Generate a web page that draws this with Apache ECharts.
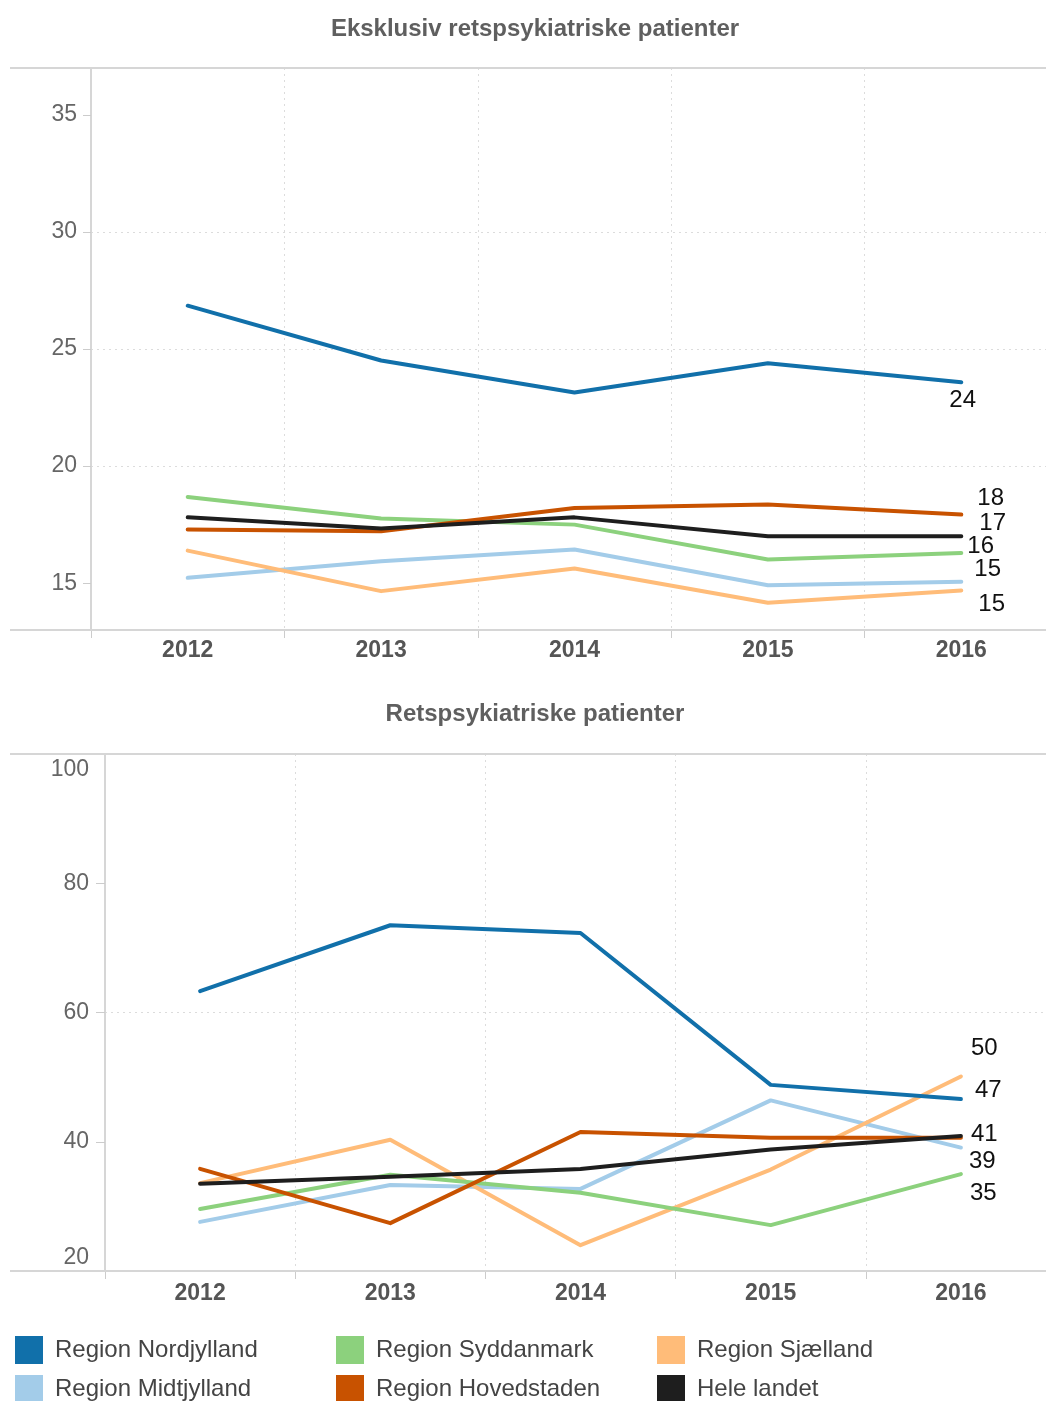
<!DOCTYPE html>
<html>
<head>
<meta charset="utf-8">
<script src="https://cdn.jsdelivr.net/npm/echarts@6/dist/echarts.min.js"></script>
<style>
  html, body { margin: 0; padding: 0; background: #ffffff; }
  #chart { width: 1046px; height: 1401px; }
</style>
</head>
<body>
<div id="chart"></div>
<script>
// Years on the category axis
const years = ['2012', '2013', '2014', '2015', '2016'];

// Series names, in legend order (column by column)
const regionNames = ['Region Nordjylland', 'Region Midtjylland', 'Region Syddanmark',
                     'Region Hovedstaden', 'Region Sjælland', 'Hele landet'];

// Eksklusiv retspsykiatriske patienter
const nordjyllandExcl = [26.85, 24.51, 23.14, 24.39, 23.58];
const midtjyllandExcl = [15.23, 15.94, 16.44, 14.91, 15.06];
const syddanmarkExcl  = [18.68, 17.76, 17.50, 16.01, 16.29];
const hovedstadenExcl = [17.29, 17.22, 18.21, 18.36, 17.93];
const sjaellandExcl   = [16.39, 14.66, 15.63, 14.16, 14.69];
const heleLandetExcl  = [17.81, 17.33, 17.81, 17.00, 17.00];

// Retspsykiatriske patienter
const nordjyllandRets = [63.3, 73.5, 72.3, 48.8, 46.6];
const midtjyllandRets = [27.6, 33.3, 32.7, 46.4, 39.1];
const syddanmarkRets  = [29.6, 34.9, 32.1, 27.1, 35.0];
const hovedstadenRets = [35.8, 27.4, 41.5, 40.6, 40.6];
const sjaellandRets   = [33.6, 40.3, 24.0, 35.7, 50.1];
const heleLandetRets  = [33.5, 34.6, 35.8, 38.8, 40.9];

// Value-axis tick labels
const topTicks = [15, 20, 25, 30, 35];
const bottomTicks = [40, 60, 80];

const FONT = '"Liberation Sans", Arial, sans-serif';

const colors = {
  'Region Nordjylland': '#1170aa',
  'Region Midtjylland': '#a3cce9',
  'Region Syddanmark': '#8cd17d',
  'Region Hovedstaden': '#c85200',
  'Region Sjælland': '#ffbc79',
  'Hele landet': '#1e1e1e'
};

// End-of-line value label nudges [dx, dy] (null = no label)
const topLabelOffsets = {
  'Region Nordjylland': [-20, 18],
  'Region Midtjylland': [5, -12],
  'Region Syddanmark': [-2, -7],
  'Region Hovedstaden': [8, -16],
  'Region Sjælland': [9, 14],
  'Hele landet': [10, -13]
};
const bottomLabelOffsets = {
  'Region Nordjylland': [6, -9],
  'Region Midtjylland': [0, 14],
  'Region Syddanmark': [1, 19],
  'Region Hovedstaden': null,
  'Region Sjælland': [2, -28],
  'Hele landet': [2, -2]
};

const topData = {
  'Region Nordjylland': nordjyllandExcl,
  'Region Midtjylland': midtjyllandExcl,
  'Region Syddanmark': syddanmarkExcl,
  'Region Hovedstaden': hovedstadenExcl,
  'Region Sjælland': sjaellandExcl,
  'Hele landet': heleLandetExcl
};
const bottomData = {
  'Region Nordjylland': nordjyllandRets,
  'Region Midtjylland': midtjyllandRets,
  'Region Syddanmark': syddanmarkRets,
  'Region Hovedstaden': hovedstadenRets,
  'Region Sjælland': sjaellandRets,
  'Hele landet': heleLandetRets
};

// Drawing order: lighter lines underneath, national average on top
const drawOrder = ['Region Midtjylland', 'Region Sjælland', 'Region Syddanmark',
                   'Region Hovedstaden', 'Region Nordjylland', 'Hele landet'];

function makeSeries(name, values, axisIndex, offset) {
  return {
    name: name,
    type: 'line',
    xAxisIndex: axisIndex,
    yAxisIndex: axisIndex,
    data: values,
    showSymbol: false,
    symbol: 'none',
    smooth: false,
    color: colors[name],
    itemStyle: { color: colors[name] },
    lineStyle: { color: colors[name], width: 4, cap: 'round', join: 'round' },
    emphasis: { disabled: true },
    animation: false,
    endLabel: offset ? {
      show: true,
      formatter: p => String(Math.round(p.value)),
      fontFamily: FONT,
      fontSize: 24,
      color: '#111',
      align: 'left',
      verticalAlign: 'middle',
      distance: 8,
      offset: offset
    } : { show: false }
  };
}

const series = [];
drawOrder.forEach(n => series.push(makeSeries(n, topData[n], 0, topLabelOffsets[n])));
drawOrder.forEach(n => series.push(makeSeries(n, bottomData[n], 1, bottomLabelOffsets[n])));

const gridLine = { show: true, lineStyle: { type: [2, 4], color: '#dcdcdc', width: 1 } };
const axisGray = '#d6d6d6';

function categoryAxis(idx, margin) {
  return {
    gridIndex: idx,
    type: 'category',
    data: years,
    boundaryGap: true,
    axisLine: { show: false },
    axisTick: { show: true, length: 8, lineStyle: { color: '#cccccc', width: 1 } },
    axisLabel: { fontFamily: FONT, fontSize: 23, fontWeight: 'bold', color: '#555', margin: margin },
    splitLine: gridLine
  };
}

const option = {
  backgroundColor: '#ffffff',
  animation: false,
  textStyle: { fontFamily: FONT },
  title: [
    {
      text: 'Eksklusiv retspsykiatriske patienter',
      left: 530, top: 12, textAlign: 'center',
      textStyle: { fontFamily: FONT, fontSize: 24, fontWeight: 'bold', color: '#5f5f5f' }
    },
    {
      text: 'Retspsykiatriske patienter',
      left: 530, top: 697, textAlign: 'center',
      textStyle: { fontFamily: FONT, fontSize: 24, fontWeight: 'bold', color: '#5f5f5f' }
    }
  ],
  // plot areas run a little past the right edge of the canvas
  grid: [
    { left: 91, top: 68, width: 967, height: 562, containLabel: false, outerBoundsMode: 'none' },
    { left: 105, top: 754, width: 951, height: 517, containLabel: false, outerBoundsMode: 'none' }
  ],
  xAxis: [categoryAxis(0, 9), categoryAxis(1, 11)],
  yAxis: [
    {
      gridIndex: 0, type: 'value', min: 13, max: 37,
      axisLine: { show: true, lineStyle: { color: axisGray, width: 2 } },
      axisTick: { show: true, length: 8, lineStyle: { color: '#cccccc' }, customValues: topTicks },
      axisLabel: { customValues: topTicks, fontFamily: FONT, fontSize: 23, color: '#666', margin: 14 },
      splitLine: { show: true, showMinLine: false, showMaxLine: false,
                   lineStyle: { type: [2, 4], color: '#dcdcdc', width: 1 } }
    },
    {
      gridIndex: 1, type: 'value', min: 20, max: 100, interval: 20,
      axisLine: { show: true, lineStyle: { color: axisGray, width: 2 } },
      axisTick: { show: true, length: 9, lineStyle: { color: '#cccccc' }, customValues: bottomTicks },
      axisLabel: { fontFamily: FONT, fontSize: 23, color: '#666', margin: 16,
                   verticalAlignMinLabel: 'bottom', verticalAlignMaxLabel: 'top',
                   padding: [4, 0, 2, 0] },
      splitLine: { show: true, showMinLine: false, showMaxLine: false,
                   lineStyle: { type: [2, 4], color: '#dcdcdc', width: 1 } }
    }
  ],
  legend: [
    { data: ['Region Nordjylland', 'Region Midtjylland'], left: 15 },
    { data: ['Region Syddanmark', 'Region Hovedstaden'], left: 336 },
    { data: ['Region Sjælland', 'Hele landet'], left: 657 }
  ].map(l => Object.assign({
    top: 1336, height: 80, orient: 'vertical', icon: 'rect',
    itemWidth: 28, itemHeight: 28, itemGap: 11, padding: 0,
    textStyle: { fontFamily: FONT, fontSize: 24, color: '#444', padding: [0, 0, 0, 7] }
  }, l)),
  graphic: [
    { type: 'line', shape: { x1: 10, y1: 68, x2: 1046, y2: 68 }, style: { stroke: axisGray, lineWidth: 2 }, z: 1 },
    { type: 'line', shape: { x1: 10, y1: 630, x2: 1046, y2: 630 }, style: { stroke: axisGray, lineWidth: 2 }, z: 1 },
    { type: 'line', shape: { x1: 10, y1: 754, x2: 1046, y2: 754 }, style: { stroke: axisGray, lineWidth: 2 }, z: 1 },
    { type: 'line', shape: { x1: 10, y1: 1271, x2: 1046, y2: 1271 }, style: { stroke: axisGray, lineWidth: 2 }, z: 1 }
  ],
  series: series
};

const chart = echarts.init(document.getElementById('chart'), null, { renderer: 'canvas' });
chart.setOption(option);
</script>
</body>
</html>
